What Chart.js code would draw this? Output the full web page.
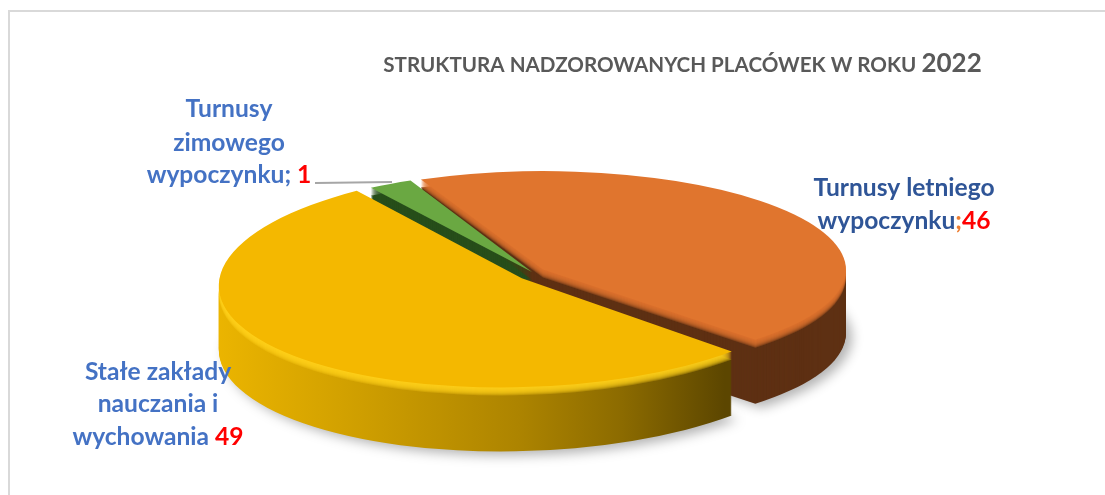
<!DOCTYPE html>
<html lang="pl">
<head>
<meta charset="utf-8">
<title>Struktura nadzorowanych placówek</title>
<style>
    html, body { margin: 0; padding: 0; background: #fff; }
    canvas { display: block; }
</style>
<script src="https://cdn.jsdelivr.net/npm/chart.js@4/dist/chart.umd.min.js"></script>
</head>
<body>
<canvas id="pie" width="1105" height="495"></canvas>
<script>
// --- Data ---
const categories = ['Turnusy letniego wypoczynku', 'Stałe zakłady nauczania i wychowania', 'Turnusy zimowego wypoczynku'];
// numbers printed on the labels
const printedValues = [46, 49, 1];
// slice sizes (its angles do not follow the printed numbers)
const sliceShares = [42.6, 51.1, 2.3];
const titleText = 'STRUKTURA NADZOROWANYCH PLACÓWEK W ROKU';
const titleYear = '2022';

// --- Look ---
const faceColors = ['#E0752E', '#F4B800', '#6AA842'];
const sideColors = ['#5E3013', null, '#274E1C']; // yellow side is a gradient
const rimColors = ['#E0752E', '#FFD21A', '#274E1C'];
const blue = '#4472C4';
const darkBlue = '#2F5597';
const red = '#FF0000';

const pieX = 532, pieY = 272;
const depth = 64, bevel = 8;
// small per slice tweaks, the original has perspective and plain scaling does not
const tilt = [0.33, 0.36, 0.345];
const spread = [1.015, 1, 1.03];
const shear = [0, -0.025, 0];
const lift = [0, 3, 0];
const drawOrder = [0, 2, 1]; // back slices first

// draws one layer of a slice, squashed into the tilted plane
function drawLayer(ctx, el, i, fill, dy) {
    const opts = el.options;
    ctx.save();
    ctx.translate(pieX, pieY + lift[i] + dy);
    ctx.transform(1, shear[i], 0, 1, 0, 0);
    ctx.scale(spread[i], tilt[i]);
    ctx.translate(-el.x, -el.y);
    el.options = Object.assign({}, opts, { backgroundColor: fill, borderWidth: 0 });
    el.draw(ctx);
    el.options = opts;
    ctx.restore();
}

const pie3d = {
    id: 'pie3d',
    beforeDatasetsDraw(chart) {
        const ctx = chart.ctx;
        const arcs = chart.getDatasetMeta(0).data;

        drawOrder.forEach(i => {
            const el = arcs[i];
            let side = sideColors[i];
            if (!side) {
                // gradient is in chart space, so shift it by the pie position
                const shift = el.x - pieX;
                side = ctx.createLinearGradient(218 + shift, 0, 735 + shift, 0);
                side.addColorStop(0, '#EDB600');
                side.addColorStop(0.3, '#CE9E00');
                side.addColorStop(0.6, '#AD8400');
                side.addColorStop(0.8, '#8C6B00');
                side.addColorStop(1, '#5C4600');
            }

            // soft shadow under the lowest layer
            ctx.save();
            ctx.shadowColor = 'rgba(0,0,0,0.3)';
            ctx.shadowBlur = 12;
            ctx.shadowOffsetX = 6;
            ctx.shadowOffsetY = 4;
            drawLayer(ctx, el, i, side, depth);
            ctx.restore();

            for (let dy = depth - 1; dy >= bevel; dy--) {
                drawLayer(ctx, el, i, side, dy);
            }

            // rounded edge between the side and the top
            for (let dy = bevel; dy > 0; dy--) {
                ctx.save();
                ctx.globalAlpha = 0.3;
                drawLayer(ctx, el, i, rimColors[i], dy);
                ctx.restore();
            }
            drawLayer(ctx, el, i, faceColors[i], 0);
        });
        return false; // arcs are already drawn
    },
    afterDraw(chart) {
        const ctx = chart.ctx;

        // frame, top and left only
        ctx.strokeStyle = '#D9D9D9';
        ctx.lineWidth = 2;
        ctx.beginPath();
        ctx.moveTo(9, 495);
        ctx.lineTo(9, 11);
        ctx.lineTo(1105, 11);
        ctx.stroke();

        // leader line of the small slice
        ctx.strokeStyle = '#A6A6A6';
        ctx.lineWidth = 2;
        ctx.beginPath();
        ctx.moveTo(315, 183);
        ctx.lineTo(392, 182);
        ctx.stroke();

        // title
        const grey = '#595959';
        drawRuns(ctx, [
            { text: titleText + ' ', color: grey, font: 'bold 20.6px Lato' },
            { text: titleYear, color: grey, font: 'bold 26px Lato' }
        ], 682.5, 72);

        // data labels
        const font = 'bold 24.6px Lato';
        const line = (text, color) => ({ text, color: color || blue, font });

        drawRuns(ctx, [line('Turnusy')], 229, 117);
        drawRuns(ctx, [line('zimowego')], 229, 151);
        drawRuns(ctx, [line('wypoczynku; '), line(String(printedValues[2]), red)], 229, 183);

        drawRuns(ctx, [line('Turnusy letniego', darkBlue)], 904, 196);
        drawRuns(ctx, [line('wypoczynku', darkBlue), line(';', '#ED7D31'), line(String(printedValues[0]), red)], 904, 229);

        drawRuns(ctx, [line('Stałe zakłady')], 158, 380);
        drawRuns(ctx, [line('nauczania i')], 158, 412);
        drawRuns(ctx, [line('wychowania '), line(String(printedValues[1]), red)], 158, 445);
    }
};

// centred line of text made of differently styled pieces
function drawRuns(ctx, runs, centerX, baseline) {
    ctx.save();
    ctx.textAlign = 'left';
    ctx.textBaseline = 'alphabetic';
    let total = 0;
    runs.forEach(r => {
        ctx.font = r.font;
        total += ctx.measureText(r.text).width;
    });
    let x = centerX - total / 2;
    runs.forEach(r => {
        ctx.font = r.font;
        ctx.fillStyle = r.color;
        ctx.fillText(r.text, x, baseline);
        x += ctx.measureText(r.text).width;
    });
    ctx.restore();
}

new Chart(document.getElementById('pie'), {
    type: 'pie',
    data: {
        labels: categories,
        datasets: [{
            data: sliceShares,
            backgroundColor: faceColors,
            borderWidth: 0,
            offset: [52, 52, 0]
        }]
    },
    options: {
        responsive: false,
        animation: false,
        radius: 290,
        rotation: -24,
        plugins: {
            legend: { display: false },
            tooltip: { enabled: false }
        }
    },
    plugins: [pie3d]
});
</script>
</body>
</html>
